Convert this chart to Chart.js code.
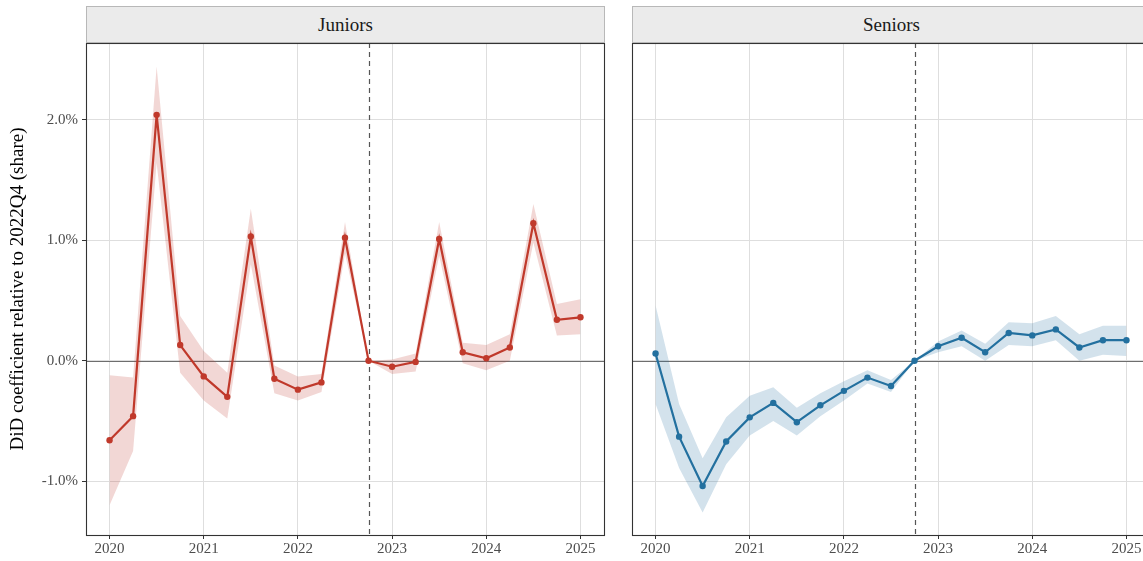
<!DOCTYPE html>
<html>
<head>
<meta charset="utf-8">
<script src="https://cdn.jsdelivr.net/npm/chart.js@4.4.0/dist/chart.umd.min.js"></script>
<style>
  html, body { margin: 0; padding: 0; background: #fff; }
  #wrap { position: relative; width: 1143px; height: 561px; overflow: hidden; }
  .strip { position: absolute; top: 6px; height: 37px; background: #EBEBEB; border: 1px solid #B8B8B8;
    box-sizing: border-box; font-family: "Liberation Serif", serif; font-size: 19px; color: #1A1A1A;
    display: flex; align-items: center; justify-content: center; }
  canvas { position: absolute; top: 0; }
</style>
</head>
<body>
<div id="wrap">
  <canvas id="cJ" width="612" height="561" style="left:0px;width:612px;height:561px"></canvas>
  <canvas id="cS" width="546" height="561" style="left:612px;width:546px;height:561px"></canvas>
  <div class="strip" style="left:86px;width:519px;">Juniors</div>
  <div class="strip" style="left:632px;width:519px;">Seniors</div>
</div>
<script>
// Quarters (decimal year): 2020Q1 ... 2025Q1
const quarters = [2020, 2020.25, 2020.5, 2020.75, 2021, 2021.25, 2021.5, 2021.75, 2022, 2022.25, 2022.5, 2022.75,
  2023, 2023.25, 2023.5, 2023.75, 2024, 2024.25, 2024.5, 2024.75, 2025];
const yearTicks = [2020, 2021, 2022, 2023, 2024, 2025];
const yTicks = [-1, 0, 1, 2];
const refQuarter = 2022.75;

// Juniors (percent)
const juniorsEst   = [-0.66, -0.46, 2.04, 0.13, -0.13, -0.30, 1.03, -0.15, -0.24, -0.18, 1.02, 0.00,
  -0.05, -0.01, 1.01, 0.07, 0.02, 0.11, 1.14, 0.34, 0.36];
const juniorsUpper = [-0.12, -0.14, 2.44, 0.37, 0.08, -0.10, 1.26, -0.04, -0.13, -0.11, 1.15, 0.00,
  0.01, 0.06, 1.15, 0.15, 0.13, 0.22, 1.30, 0.47, 0.51];
const juniorsLower = [-1.20, -0.75, 1.64, -0.10, -0.33, -0.48, 0.80, -0.27, -0.33, -0.26, 0.89, 0.00,
  -0.11, -0.09, 0.87, -0.02, -0.08, 0.00, 0.98, 0.21, 0.22];

// Seniors (percent)
const seniorsEst   = [0.06, -0.63, -1.04, -0.67, -0.47, -0.35, -0.51, -0.37, -0.25, -0.14, -0.21, 0.00,
  0.12, 0.19, 0.07, 0.23, 0.21, 0.26, 0.11, 0.17, 0.17];
const seniorsUpper = [0.46, -0.36, -0.81, -0.47, -0.29, -0.22, -0.39, -0.27, -0.17, -0.08, -0.16, 0.00,
  0.16, 0.25, 0.14, 0.32, 0.31, 0.37, 0.22, 0.29, 0.29];
const seniorsLower = [-0.36, -0.89, -1.26, -0.86, -0.62, -0.50, -0.62, -0.46, -0.33, -0.19, -0.26, 0.00,
  0.07, 0.12, 0.00, 0.13, 0.12, 0.17, 0.00, 0.05, 0.04];

const FONT = "'Liberation Serif', 'Times New Roman', serif";

const toXY = arr => arr.map((v, i) => ({ x: quarters[i], y: v }));

const panelPlugin = {
  id: 'panelDeco',
  beforeDatasetsDraw(chart) {
    const { ctx, chartArea: a, scales } = chart;
    ctx.save();
    const y0 = Math.round(scales.y.getPixelForValue(0)) + 0.5;
    ctx.strokeStyle = '#6E6E6E';
    ctx.lineWidth = 1.1;
    ctx.beginPath(); ctx.moveTo(a.left, y0); ctx.lineTo(a.right, y0); ctx.stroke();
    const xr = Math.round(scales.x.getPixelForValue(refQuarter)) + 0.5;
    ctx.strokeStyle = '#555555';
    ctx.lineWidth = 1.2;
    ctx.setLineDash([5, 4]);
    ctx.beginPath(); ctx.moveTo(xr, a.top); ctx.lineTo(xr, a.bottom); ctx.stroke();
    ctx.restore();
  },
  afterDraw(chart) {
    const { ctx, chartArea: a } = chart;
    ctx.save();
    ctx.strokeStyle = '#333333';
    ctx.lineWidth = 1.1;
    ctx.strokeRect(Math.round(a.left) + 0.5, Math.round(a.top) + 0.5,
      Math.round(a.right - a.left), Math.round(a.bottom - a.top));
    ctx.restore();
  }
};

function makeChart(id, est, up, lo, color, band, isLeft) {
  return new Chart(document.getElementById(id), {
    type: 'line',
    data: {
      datasets: [
        { data: toXY(up), borderWidth: 0, pointRadius: 0, fill: '+1', backgroundColor: band, order: 3, tension: 0 },
        { data: toXY(lo), borderWidth: 0, pointRadius: 0, fill: false, order: 3, tension: 0 },
        { data: toXY(est), borderColor: color, borderWidth: 2.2, pointRadius: 3.2, pointBackgroundColor: color,
          pointBorderColor: color, pointBorderWidth: 0, fill: false, order: 1, tension: 0 }
      ]
    },
    options: {
      responsive: false,
      animation: false,
      devicePixelRatio: 1,
      layout: { padding: { top: 43, right: 8, left: 0, bottom: 0 } },
      plugins: { legend: { display: false }, tooltip: { enabled: false } },
      scales: {
        x: {
          type: 'linear', min: 2019.75, max: 2025.25,
          afterBuildTicks: s => { s.ticks = yearTicks.map(v => ({ value: v })); },
          afterFit: s => { s.height = 26; },
          grid: { color: '#DEDEDE', lineWidth: 1, drawTicks: true, tickLength: 4, tickColor: '#333333' },
          border: { display: false },
          ticks: { font: { family: FONT, size: 15 }, color: '#4D4D4D', padding: 1, maxRotation: 0,
            callback: v => String(v) }
        },
        y: {
          type: 'linear', min: -1.446, max: 2.636,
          afterBuildTicks: s => { s.ticks = yTicks.map(v => ({ value: v })); },
          afterFit: s => { s.width = isLeft ? 86 : 20; },
          grid: { color: '#DEDEDE', lineWidth: 1, drawTicks: isLeft, tickLength: 4, tickColor: '#333333' },
          border: { display: false },
          ticks: { display: isLeft, font: { family: FONT, size: 15 }, color: '#4D4D4D', padding: 4,
            callback: v => v.toFixed(1) + '%' },
          title: { display: isLeft, text: 'DiD coefficient relative to 2022Q4 (share)',
            font: { family: FONT, size: 19 }, color: '#000', padding: { top: 7, bottom: 0 } }
        }
      }
    },
    plugins: [panelPlugin]
  });
}

makeChart('cJ', juniorsEst, juniorsUpper, juniorsLower, '#C0392B', 'rgba(192,57,43,0.2)', true);
makeChart('cS', seniorsEst, seniorsUpper, seniorsLower, '#23709F', 'rgba(35,112,159,0.2)', false);
</script>
</body>
</html>
